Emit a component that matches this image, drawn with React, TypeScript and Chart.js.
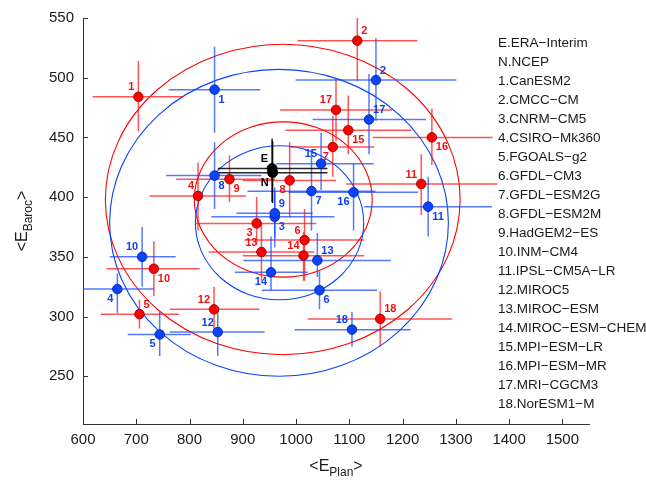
import React, { useEffect, useRef } from "react";
import { Chart, registerables } from "chart.js";

Chart.register(...registerables);

// ---------- data ----------
const xTicks = [600, 700, 800, 900, 1000, 1100, 1200, 1300, 1400, 1500];
const yTicks = [250, 300, 350, 400, 450, 500, 550];

const legendEntries = [
  "E.ERA\u2212Interim",
  "N.NCEP",
  "1.CanESM2",
  "2.CMCC\u2212CM",
  "3.CNRM\u2212CM5",
  "4.CSIRO\u2212Mk360",
  "5.FGOALS\u2212g2",
  "6.GFDL\u2212CM3",
  "7.GFDL\u2212ESM2G",
  "8.GFDL\u2212ESM2M",
  "9.HadGEM2\u2212ES",
  "10.INM\u2212CM4",
  "11.IPSL\u2212CM5A\u2212LR",
  "12.MIROC5",
  "13.MIROC\u2212ESM",
  "14.MIROC\u2212ESM\u2212CHEM",
  "15.MPI\u2212ESM\u2212LR",
  "16.MPI\u2212ESM\u2212MR",
  "17.MRI\u2212CGCM3",
  "18.NorESM1\u2212M",
];

const modelLabels = ["1", "2", "3", "4", "5", "6", "7", "8", "9", "10", "11", "12", "13", "14", "15", "16", "17", "18"];

// red series (models 1..18)
const redX = [704, 1115, 926, 816, 706, 1016, 1069, 988, 875, 733, 1235, 846, 935, 1014, 1098, 1255, 1075, 1158];
const redY = [484, 531, 378, 401, 302, 364, 442, 414, 415, 340, 411, 306, 354, 351, 456, 450, 473, 298];
const redXLow = [618, 1003, 812, 725, 633, 903, 988, 900, 775, 644, 1094, 763, 836, 900, 980, 1144, 970, 1022];
const redXHigh = [788, 1228, 1038, 906, 780, 1128, 1147, 1075, 960, 819, 1378, 931, 1034, 1128, 1216, 1369, 1180, 1293];
const redYLow = [455, 497, 361, 372, 290, 330, 417, 383, 396, 317, 385, 288, 330, 330, 436, 427, 447, 275];
const redYHigh = [514, 564, 400, 429, 314, 390, 468, 446, 435, 363, 436, 325, 378, 371, 485, 474, 499, 321];
const redLabelPos = ["tl", "tr", "bl", "tl", "tr", "tl", "bl", "bl", "br", "br", "tl", "tl", "tl", "tl", "br", "br", "tl", "tr"];

// blue series (models 1..18)
const blueX = [847, 1150, 960, 664.5, 744, 1044, 1029, 847, 960, 711, 1248, 853, 1040, 953, 1047, 1108, 1137, 1105];
const blueY = [490, 498, 383.5, 323, 285, 322, 405, 418, 386.5, 350, 392, 287, 347, 337, 428, 404, 465, 289];
const blueXLow = [761, 999, 841, 597, 684, 936, 909, 756, 888, 650, 1128, 763, 901, 885, 963, 986, 1031, 997];
const blueXHigh = [933, 1301, 1072, 733, 803, 1152, 1149, 935, 1031, 774, 1368, 941, 1178, 1022, 1146, 1229, 1244, 1215];
const blueYLow = [454, 464, 358, 303, 267, 306, 372, 390, 366, 325, 367, 267, 333, 322, 406, 372, 436, 275];
const blueYHigh = [526, 533, 408, 336, 304, 338, 440, 446, 405, 375, 417, 306, 370, 367, 454, 428, 503, 304];
const blueLabelPos = ["br", "tr", "br", "bl", "bl", "br", "br", "br", "tr", "tl", "br", "tl", "tr", "bl", "tl", "bl", "tr", "tl"];

// reanalyses
const refLabels = ["E", "N"];
const refX = [955, 956];
const refY = [424, 420.5];
const refXLow = [853, 848];
const refXHigh = [1059, 1059];
const refYLow = [396, 395];
const refYHigh = [449, 447];
const refLabelPos = ["tl", "bl"];

// ellipses (centre, semi-axes in data units); group 0 = red, 1 = blue
const ellipseCX = [975, 968, 976, 969];
const ellipseCY = [398, 378.5, 398, 378.5];
const ellipseRX = [333, 318, 167, 158];
const ellipseRY = [130, 128.5, 65, 64.5];
const ellipseGroup = [0, 1, 0, 1];

// ---------- styles ----------
const FONT = '"Liberation Sans", Arial, Helvetica, sans-serif';
const RED = "#ff0000";
const BLUE = "#0a44ff";
const RED_ERR = "rgba(255,20,20,0.72)";
const BLUE_ERR = "rgba(20,70,255,0.72)";
const TEXT = "#1a1a1a";

function drawErrors(ctx: any, xs: any, ys: any, X: number[], Y: number[], xl: number[], xh: number[], yl: number[], yh: number[], color: string) {
  ctx.strokeStyle = color;
  ctx.lineWidth = 1.5;
  for (let i = 0; i < X.length; i++) {
    const px = xs.getPixelForValue(X[i]);
    const py = ys.getPixelForValue(Y[i]);
    ctx.beginPath();
    ctx.moveTo(xs.getPixelForValue(xl[i]), py);
    ctx.lineTo(xs.getPixelForValue(xh[i]), py);
    ctx.moveTo(px, ys.getPixelForValue(yl[i]));
    ctx.lineTo(px, ys.getPixelForValue(yh[i]));
    ctx.stroke();
  }
}

function drawLabels(ctx: any, xs: any, ys: any, X: number[], Y: number[], texts: string[], pos: string[], color: string) {
  ctx.fillStyle = color;
  ctx.font = `bold 11px ${FONT}`;
  ctx.textBaseline = "middle";
  for (let i = 0; i < X.length; i++) {
    const px = xs.getPixelForValue(X[i]);
    const py = ys.getPixelForValue(Y[i]);
    const p = pos[i];
    const left = p[1] === "l";
    const top = p[0] === "t";
    ctx.textAlign = left ? "right" : "left";
    ctx.fillText(texts[i], px + (left ? -4 : 4), py + (top ? -9.5 : 10));
  }
}

function drawSubTitle(ctx: any, cx: number, cy: number, a: string, sub: string, b: string, rotate: boolean) {
  ctx.save();
  ctx.translate(cx, cy);
  if (rotate) ctx.rotate(-Math.PI / 2);
  const big = `16px ${FONT}`;
  const small = `12px ${FONT}`;
  ctx.font = big;
  const w1 = ctx.measureText(a).width;
  const w3 = ctx.measureText(b).width;
  ctx.font = small;
  const w2 = ctx.measureText(sub).width;
  const x0 = -(w1 + w2 + w3) / 2;
  ctx.fillStyle = TEXT;
  ctx.textAlign = "left";
  ctx.textBaseline = "alphabetic";
  ctx.font = big;
  ctx.fillText(a, x0, 0);
  ctx.font = small;
  ctx.fillText(sub, x0 + w1, 5);
  ctx.font = big;
  ctx.fillText(b, x0 + w1 + w2, 0);
  ctx.restore();
}

const overlayPlugin = {
  id: "overlay",
  beforeDatasetsDraw(chart: any) {
    const { ctx, chartArea, scales } = chart;
    const xs = scales.x;
    const ys = scales.y;
    ctx.save();
    ctx.beginPath();
    ctx.rect(chartArea.left, chartArea.top, chartArea.right - chartArea.left, chartArea.bottom - chartArea.top);
    ctx.clip();
    for (let i = 0; i < ellipseCX.length; i++) {
      const cx = xs.getPixelForValue(ellipseCX[i]);
      const cy = ys.getPixelForValue(ellipseCY[i]);
      const rx = Math.abs(xs.getPixelForValue(ellipseCX[i] + ellipseRX[i]) - cx);
      const ry = Math.abs(ys.getPixelForValue(ellipseCY[i] + ellipseRY[i]) - cy);
      ctx.beginPath();
      ctx.ellipse(cx, cy, rx, ry, 0, 0, Math.PI * 2);
      ctx.strokeStyle = ellipseGroup[i] === 0 ? RED : BLUE;
      ctx.lineWidth = 1.1;
      ctx.stroke();
    }
    drawErrors(ctx, xs, ys, redX, redY, redXLow, redXHigh, redYLow, redYHigh, RED_ERR);
    drawErrors(ctx, xs, ys, blueX, blueY, blueXLow, blueXHigh, blueYLow, blueYHigh, BLUE_ERR);
    drawErrors(ctx, xs, ys, refX, refY, refXLow, refXHigh, refYLow, refYHigh, "rgba(0,0,0,0.85)");
    ctx.restore();
  },
  afterDatasetsDraw(chart: any) {
    const { ctx, chartArea, scales } = chart;
    const xs = scales.x;
    const ys = scales.y;
    ctx.save();
    drawLabels(ctx, xs, ys, redX, redY, modelLabels, redLabelPos, "#f01010");
    drawLabels(ctx, xs, ys, blueX, blueY, modelLabels, blueLabelPos, "#1040f0");
    drawLabels(ctx, xs, ys, refX, refY, refLabels, refLabelPos, "#000000");

    // inward tick marks
    ctx.strokeStyle = "#333";
    ctx.lineWidth = 1;
    ctx.beginPath();
    for (const v of xTicks) {
      const px = Math.round(xs.getPixelForValue(v)) + 0.5;
      ctx.moveTo(px, chartArea.bottom);
      ctx.lineTo(px, chartArea.bottom - 5);
    }
    for (const v of yTicks) {
      const py = Math.round(ys.getPixelForValue(v)) + 0.5;
      ctx.moveTo(chartArea.left, py);
      ctx.lineTo(chartArea.left + 5, py);
    }
    ctx.stroke();

    // legend text list
    ctx.fillStyle = TEXT;
    ctx.font = `13.5px ${FONT}`;
    ctx.textAlign = "left";
    ctx.textBaseline = "middle";
    legendEntries.forEach((t, i) => {
      ctx.fillText(t, 498, 43.5 + i * 19);
    });

    // axis titles
    drawSubTitle(ctx, (chartArea.left + chartArea.right) / 2, 471, "<E", "Plan", ">", false);
    drawSubTitle(ctx, 27, (chartArea.top + chartArea.bottom) / 2, "<E", "Baroc", ">", true);
    ctx.restore();
  },
};

export default function App() {
  const canvasRef = useRef<HTMLCanvasElement | null>(null);

  useEffect(() => {
    const canvas = canvasRef.current;
    if (!canvas) return;
    const chart = new Chart(canvas, {
      type: "scatter",
      data: {
        datasets: [
          {
            label: "red",
            data: redX.map((v, i) => ({ x: v, y: redY[i] })),
            backgroundColor: RED,
            borderColor: "#8a0000",
            borderWidth: 0.8,
            pointRadius: 4.8,
          },
          {
            label: "blue",
            data: blueX.map((v, i) => ({ x: v, y: blueY[i] })),
            backgroundColor: BLUE,
            borderColor: "#00208a",
            borderWidth: 0.8,
            pointRadius: 4.8,
          },
          {
            label: "ref",
            data: refX.map((v, i) => ({ x: v, y: refY[i] })),
            backgroundColor: "#000000",
            borderColor: "#000000",
            borderWidth: 0.8,
            pointRadius: 5,
          },
        ],
      },
      options: {
        responsive: false,
        animation: false,
        layout: { padding: { left: 0, right: 57, top: 17, bottom: 0 } },
        plugins: {
          legend: { display: false },
          tooltip: { enabled: false },
        },
        scales: {
          x: {
            type: "linear",
            min: 600,
            max: 1550,
            afterBuildTicks: (s: any) => {
              s.ticks = xTicks.map((v) => ({ value: v }));
            },
            afterFit: (s: any) => {
              s.height = 56;
            },
            grid: { display: false, drawTicks: false },
            border: { display: true, color: "#333", width: 1 },
            ticks: {
              font: { size: 15, family: FONT },
              color: TEXT,
              padding: 7,
              maxRotation: 0,
              autoSkip: false,
              callback: (v: any) => String(v),
            },
          },
          y: {
            type: "linear",
            min: 210,
            max: 550,
            afterBuildTicks: (s: any) => {
              s.ticks = yTicks.map((v) => ({ value: v }));
            },
            afterFit: (s: any) => {
              s.width = 83;
            },
            grid: { display: false, drawTicks: false },
            border: { display: true, color: "#333", width: 1 },
            ticks: {
              font: { size: 15, family: FONT },
              color: TEXT,
              padding: 9,
              autoSkip: false,
              callback: (v: any) => String(v),
            },
          },
        },
      },
      plugins: [overlayPlugin],
    } as any);
    return () => chart.destroy();
  }, []);

  return (
    <div style={{ position: "fixed", left: 0, top: 0, width: 646, height: 480, background: "#fff" }}>
      <canvas ref={canvasRef} width={646} height={480} style={{ display: "block" }} />
    </div>
  );
}
